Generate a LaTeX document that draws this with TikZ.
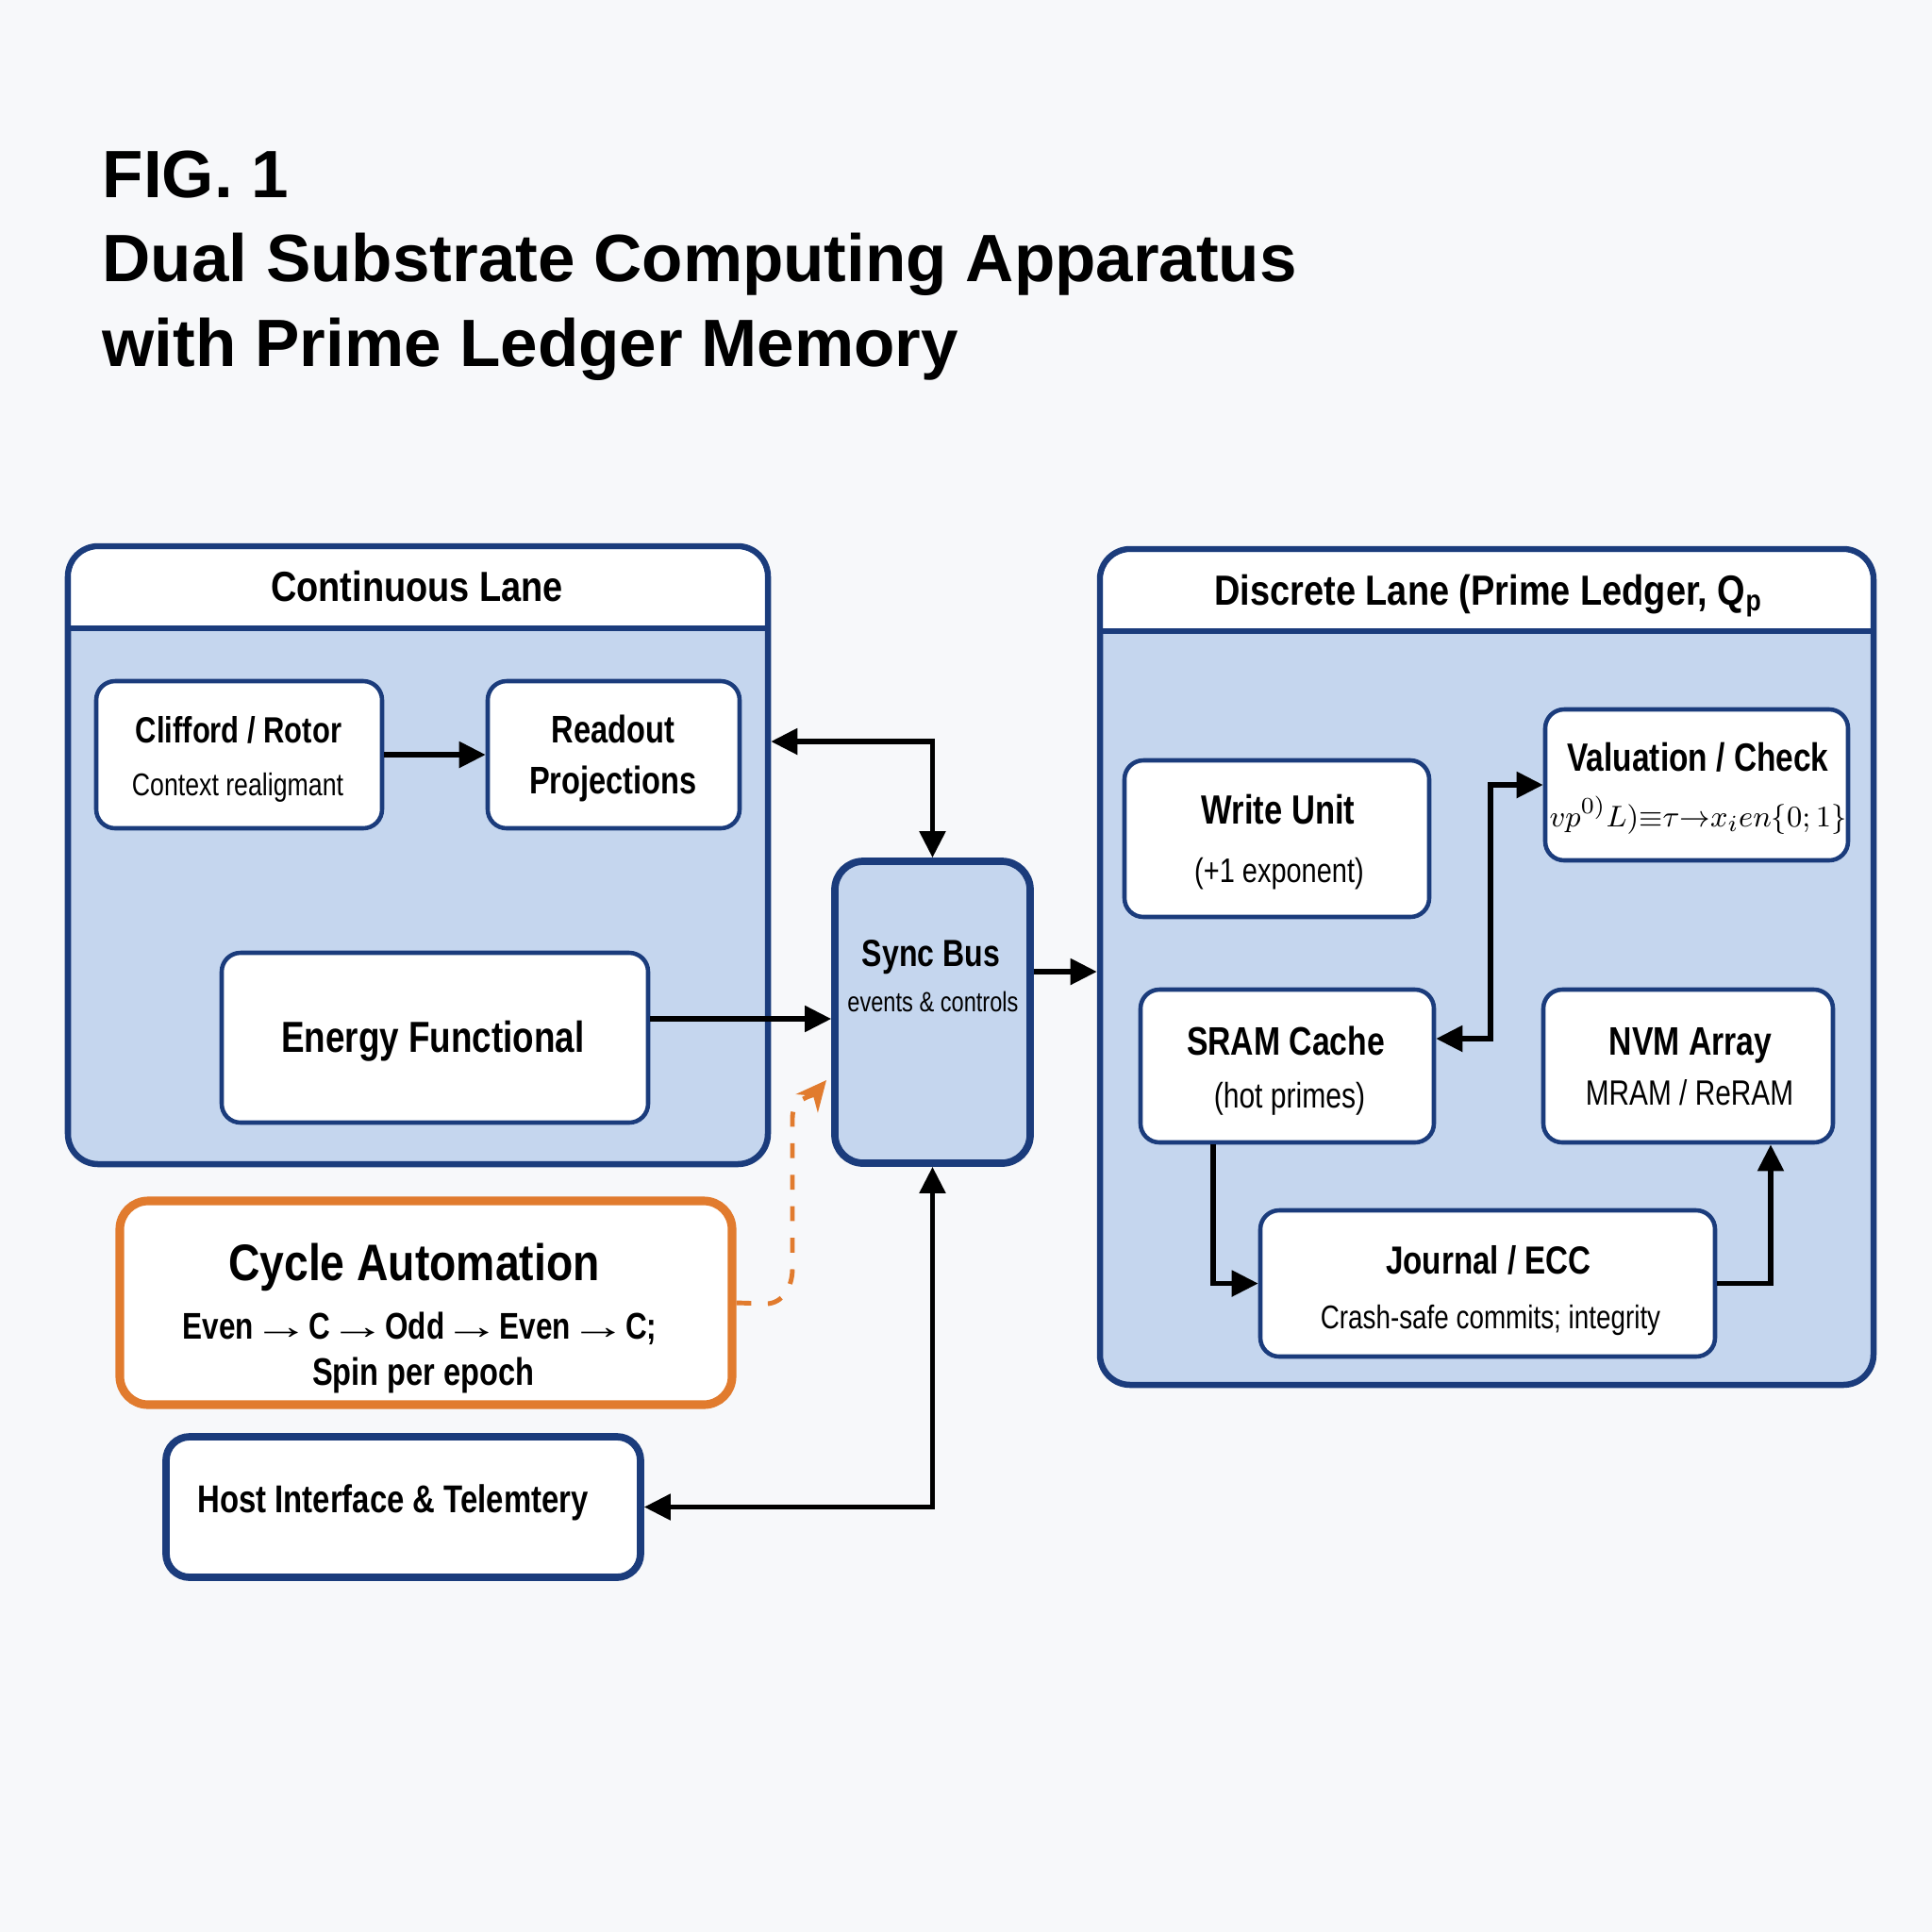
\documentclass[tikz,border=0pt]{standalone}
\usepackage[no-math]{fontspec}
\usepackage{graphicx}
\setmainfont{Liberation Sans}
\newfontfamily\cn{Liberation Sans}[FakeStretch=0.8]
\newfontfamily\cw{Liberation Sans}[FakeStretch=0.85]
\usetikzlibrary{arrows.meta,calc}
\definecolor{navy}{HTML}{1B3C7C}
\definecolor{laneblue}{HTML}{C5D6EE}
\definecolor{bgc}{HTML}{F7F8FA}
\definecolor{orng}{HTML}{E17B2E}
\newcommand\fsz[1]{\fontsize{#1pt}{#1pt}\selectfont}
\newcommand\rarr{\hspace{4.2pt}\makebox[8.2pt][c]{\scalebox{1.9}[1]{\mdseries →}}\hspace{4.2pt}}
\tikzset{
  lanebox/.style={draw=navy, line width=1.85pt, fill=laneblue, rounded corners=0.32cm, outer sep=0pt, inner sep=0pt},
  wbox/.style={draw=navy, line width=1.3pt, fill=white, rounded corners=0.2cm, inner sep=0pt},
  syncbox/.style={draw=navy, line width=2.2pt, fill=laneblue, rounded corners=0.3cm, inner sep=0pt},
  cycbox/.style={draw=orng, line width=2.6pt, fill=white, rounded corners=0.3cm, inner sep=0pt},
  hostbox/.style={draw=navy, line width=2.2pt, fill=white, rounded corners=0.25cm, inner sep=0pt},
  txt/.style={inner sep=0pt, anchor=mid, yshift=-0.05cm},
  arr/.style={line width=1.5pt, -{Triangle[length=0.28cm,width=0.27cm]}},
  arrb/.style={line width=1.5pt, {Triangle[length=0.28cm,width=0.27cm]}-{Triangle[length=0.28cm,width=0.27cm]}},
  dasharr/.style={draw=orng, line width=1.4pt, dash pattern=on 4.5pt off 5pt, -{Stealth[length=0.32cm,width=0.3cm]}},
}
\begin{document}
\begin{tikzpicture}
\useasboundingbox (0,0) rectangle (20.48,-20.48);
\fill[bgc] (0,0) rectangle (20.48,-20.48);

% Title
\node[inner sep=0pt, anchor=base west, font=\bfseries\fsz{20.2}] (fig) at (1.08,-2.09) {FIG. 1};
\node[inner sep=0pt, anchor=base west, font=\bfseries\fsz{20.2}] (title1) at (1.08,-2.98) {Dual Substrate Computing Apparatus};
\node[inner sep=0pt, anchor=base west, font=\bfseries\fsz{20.2}] (title2) at (1.08,-3.88) {with Prime Ledger Memory};

% Continuous lane
\node[lanebox, minimum width=7.42cm, minimum height=6.55cm] (cont) at (4.43,-9.065) {};
\begin{scope}
  \clip (cont.north west) rectangle ([yshift=-0.87cm]cont.north east);
  \fill[white, rounded corners=0.29cm] ([shift={(0.93pt,-0.93pt)}]cont.north west) rectangle ([shift={(-0.93pt,0.93pt)}]cont.south east);
\end{scope}
\draw[navy, line width=1.5pt] ([yshift=-0.87cm]cont.north west) -- ([yshift=-0.87cm]cont.north east);
\node[txt, font=\cw\bfseries\fsz{12.7}] (contT) at (4.42,-6.23) {Continuous Lane};

% Discrete lane
\node[lanebox, minimum width=8.20cm, minimum height=8.86cm] (disc) at (15.76,-10.25) {};
\begin{scope}
  \clip (disc.north west) rectangle ([yshift=-0.87cm]disc.north east);
  \fill[white, rounded corners=0.29cm] ([shift={(0.93pt,-0.93pt)}]disc.north west) rectangle ([shift={(-0.93pt,0.93pt)}]disc.south east);
\end{scope}
\draw[navy, line width=1.5pt] ([yshift=-0.87cm]disc.north west) -- ([yshift=-0.87cm]disc.north east);
\node[txt, font=\cw\bfseries\fsz{12.7}] (discT) at (15.78,-6.27) {Discrete Lane (Prime Ledger, Q\textsubscript{p}};

% Continuous lane boxes
\node[wbox, minimum width=3.03cm, minimum height=1.56cm] (clifford) at (2.535,-8.00) {};
\node[txt, font=\cn\bfseries\fsz{11}] (cliffordA) at (2.53,-7.73) {Clifford / Rotor};
\node[txt, font=\cn\fsz{9.5}] (cliffordB) at (2.52,-8.29) {Context realigmant};

\node[wbox, minimum width=2.67cm, minimum height=1.56cm] (readout) at (6.505,-8.00) {};
\node[txt, font=\cn\bfseries\fsz{11.6}] (readoutA) at (6.50,-7.73) {Readout};
\node[txt, font=\cn\bfseries\fsz{11.6}] (readoutB) at (6.50,-8.27) {Projections};

\node[wbox, minimum width=4.52cm, minimum height=1.80cm] (energy) at (4.61,-11.00) {};
\node[txt, font=\cn\bfseries\fsz{13.1}] (energyA) at (4.59,-11.01) {Energy Functional};

% Sync bus
\node[syncbox, minimum width=2.07cm, minimum height=3.20cm] (sync) at (9.885,-10.73) {};
\node[txt, font=\cn\bfseries\fsz{11.4}] (syncA) at (9.87,-10.10) {Sync Bus};
\node[txt, font=\cn\fsz{8.4}] (syncB) at (9.89,-10.58) {events \& controls};

% Discrete lane boxes
\node[wbox, minimum width=3.23cm, minimum height=1.66cm] (write) at (13.535,-8.89) {};
\node[txt, font=\cn\bfseries\fsz{12.3}] (writeA) at (13.55,-8.59) {Write Unit};
\node[txt, font=\cn\fsz{10.3}] (writeB) at (13.56,-9.21) {(+1 exponent)};

\node[wbox, minimum width=3.21cm, minimum height=1.60cm] (valuation) at (17.985,-8.32) {};
\node[txt, font=\cn\bfseries\fsz{11.9}] (valA) at (18.00,-8.03) {Valuation / Check};
\node[txt, font=\fsz{9.4}] (valB) at (18.00,-8.62) {$vp^{0)}L){\equiv}\tau{\rightarrow}x_{i}en\{0;1\}$};

\node[wbox, minimum width=3.11cm, minimum height=1.62cm] (sram) at (13.645,-11.30) {};
\node[txt, font=\cn\bfseries\fsz{12}] (sramA) at (13.63,-11.04) {SRAM Cache};
\node[txt, font=\cn\fsz{10.7}] (sramB) at (13.67,-11.60) {(hot primes)};

\node[wbox, minimum width=3.07cm, minimum height=1.62cm] (nvm) at (17.895,-11.30) {};
\node[txt, font=\cn\bfseries\fsz{12}] (nvmA) at (17.92,-11.04) {NVM Array};
\node[txt, font=\cn\fsz{10.6}] (nvmB) at (17.91,-11.57) {MRAM / ReRAM};

\node[wbox, minimum width=4.82cm, minimum height=1.55cm] (journal) at (15.77,-13.605) {};
\node[txt, font=\cn\bfseries\fsz{11.8}] (journalA) at (15.78,-13.36) {Journal / ECC};
\node[txt, font=\cn\fsz{9.9}] (journalB) at (15.80,-13.94) {Crash-safe commits; integrity};

% Cycle automation
\node[cycbox, minimum width=6.49cm, minimum height=2.16cm] (cycle) at (4.515,-13.81) {};
\node[txt, font=\cw\bfseries\fsz{15.5}] (cycleA) at (4.39,-13.43) {Cycle Automation};
\node[txt, font=\cn\bfseries\fsz{11.2}] (cycleB) at (4.45,-14.055) {Even\rarr C\rarr Odd\rarr Even\rarr C;};
\node[txt, font=\cn\bfseries\fsz{11.6}] (cycleC) at (4.49,-14.54) {Spin per epoch};

% Host interface
\node[hostbox, minimum width=5.03cm, minimum height=1.49cm] (host) at (4.275,-15.975) {};
\node[txt, font=\cn\bfseries\fsz{11.7}] (hostA) at (4.165,-15.89) {Host Interface \& Telemtery};

% Helper coordinates
\coordinate (rs) at (9.885,-7.86);
\coordinate (esy) at (0,-10.80);
\coordinate (sd) at (0,-10.30);
\coordinate (sv) at (15.80,-11.01);
\coordinate (sj) at (12.86,0);
\coordinate (jn) at (18.77,0);
\coordinate (cyctip) at (8.76,-11.45);

% Connectors
\draw[arr] (clifford) -- (readout);
\draw[arrb, shorten <=0.93pt] (cont.east |- rs) -- (rs) -- (sync.north);
\draw[arr] (energy.east |- esy) -- (sync.west |- esy);
\draw[arr, shorten >=0.93pt] (sync.east |- sd) -- (disc.west |- sd);
\draw[arrb] (sync.south) |- (host.east);
\draw[dasharr] (cycle.east) -- (8.12,-13.82) to[out=0,in=-90] (8.40,-13.45) -- (8.40,-11.85) to[out=90,in=-130] (cyctip);
\draw[arrb] (sram.east |- sv) -- (sv) |- (valuation.west);
\draw[arr] (sram.south -| sj) |- (journal.west);
\draw[arr] (journal.east) -| (nvm.south -| jn);
\end{tikzpicture}
\end{document}
